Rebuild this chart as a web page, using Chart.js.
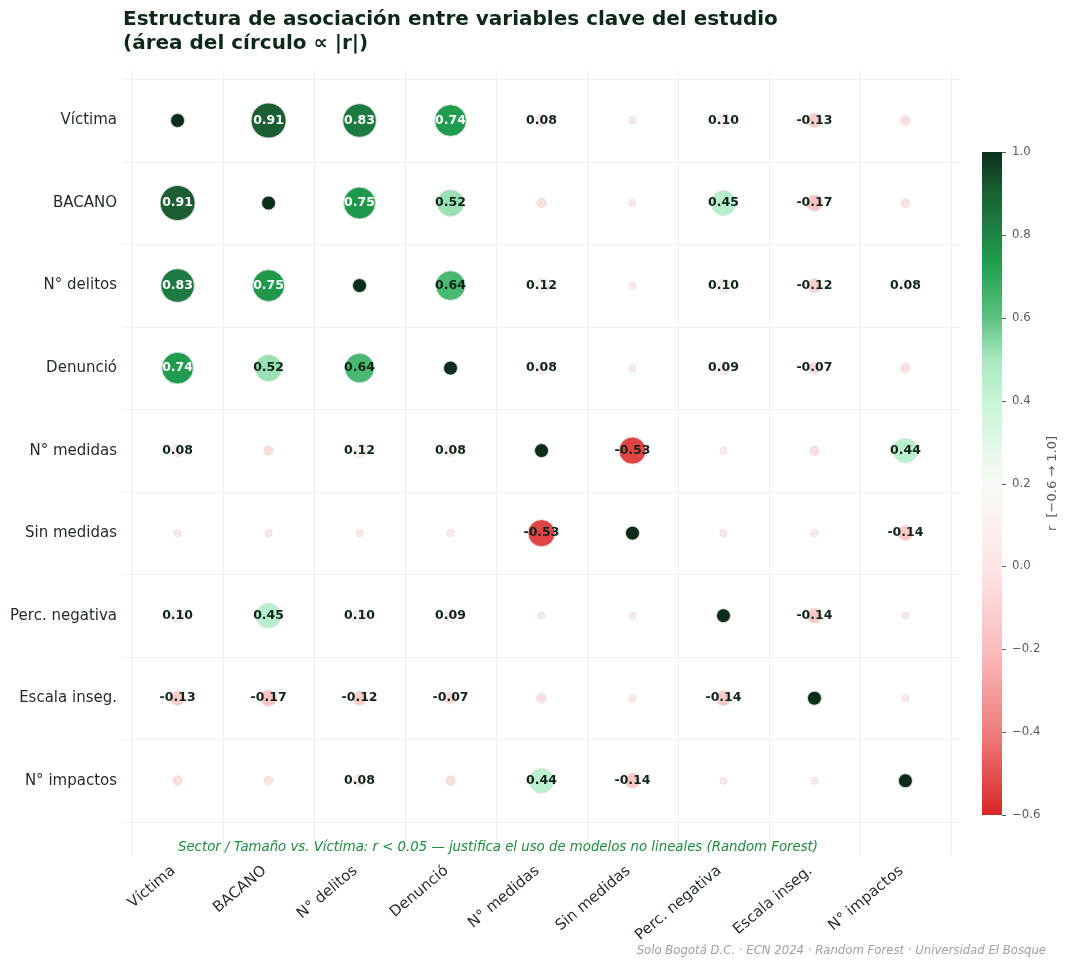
<!DOCTYPE html>
<html>
<head>
<meta charset="utf-8">
<script src="https://cdn.jsdelivr.net/npm/chart.js@4.4.1/dist/chart.umd.min.js"></script>
<style>
  body { margin: 0; background: #fff; }
  #wrap { width: 1065px; height: 960px; }
</style>
</head>
<body>
<div id="wrap"><canvas id="corrChart" width="1065" height="960"></canvas></div>
<script>
const variables = ['Víctima', 'BACANO', 'N° delitos', 'Denunció', 'N° medidas', 'Sin medidas', 'Perc. negativa', 'Escala inseg.', 'N° impactos'];

// correlation rows, same order as variables
const rowVictima  = [1.00, 0.91, 0.83, 0.74, 0.08, 0.01, 0.10, -0.13, -0.04];
const rowBacano   = [0.91, 1.00, 0.75, 0.52, -0.04, 0.01, 0.45, -0.17, -0.03];
const rowDelitos  = [0.83, 0.75, 1.00, 0.64, 0.12, 0.01, 0.10, -0.12, 0.08];
const rowDenuncio = [0.74, 0.52, 0.64, 1.00, 0.08, 0.01, 0.09, -0.07, -0.04];
const rowMedidas  = [0.08, -0.04, 0.12, 0.08, 1.00, -0.53, 0.01, -0.04, 0.44];
const rowSinMed   = [0.01, 0.01, 0.01, 0.01, -0.53, 1.00, 0.01, 0.01, -0.14];
const rowPercNeg  = [0.10, 0.45, 0.10, 0.09, 0.01, 0.01, 1.00, -0.14, 0.01];
const rowEscala   = [-0.13, -0.17, -0.12, -0.07, -0.04, 0.01, -0.14, 1.00, 0.01];
const rowImpactos = [-0.04, -0.03, 0.08, -0.04, 0.44, -0.14, 0.01, 0.01, 1.00];
const corrRows = [rowVictima, rowBacano, rowDelitos, rowDenuncio, rowMedidas, rowSinMed, rowPercNeg, rowEscala, rowImpactos];

const cbTicks = [1.0, 0.8, 0.6, 0.4, 0.2, 0.0, -0.2, -0.4, -0.6];

// colour scale (red -> white -> green)
const cmapStops = [
  [-0.6, '#d92626'],
  [-0.4, '#ef7d7d'],
  [-0.2, '#fbbdbd'],
  [0.0, '#fde6e6'],
  [0.2, '#f8faf5'],
  [0.4, '#c8f5d6'],
  [0.5, '#a8e8bf'],
  [0.6, '#5cc280'],
  [0.73, '#1fa04e'],
  [0.83, '#1e7a40'],
  [0.91, '#1a5e32'],
  [1.0, '#0b2e1a']
];

function hexToRgb(h) {
  return [parseInt(h.slice(1, 3), 16), parseInt(h.slice(3, 5), 16), parseInt(h.slice(5, 7), 16)];
}

function colorFor(v) {
  if (v <= cmapStops[0][0]) return cmapStops[0][1];
  for (let i = 1; i < cmapStops.length; i++) {
    if (v <= cmapStops[i][0]) {
      const [v0, c0] = cmapStops[i - 1];
      const [v1, c1] = cmapStops[i];
      const t = (v - v0) / (v1 - v0);
      const a = hexToRgb(c0), b = hexToRgb(c1);
      const c = a.map((x, k) => Math.round(x + (b[k] - x) * t));
      return `rgb(${c[0]},${c[1]},${c[2]})`;
    }
  }
  return cmapStops[cmapStops.length - 1][1];
}

// area of circle proportional to |r|; diagonal drawn as a small dot
function radiusFor(v, diag) {
  if (diag) return 7;
  return Math.sqrt(38 + 1304 * Math.abs(v)) / 2;
}

const points = [];
corrRows.forEach((row, i) => {
  row.forEach((v, j) => {
    points.push({ x: j, y: i, r: radiusFor(v, i === j), v: v, diag: i === j });
  });
});

const FONT = "'DejaVu Sans', sans-serif";

// light grid between cells
const cellGrid = {
  id: 'cellGrid',
  beforeDatasetsDraw(chart) {
    const { ctx, chartArea, scales } = chart;
    ctx.save();
    ctx.strokeStyle = '#efefef';
    ctx.lineWidth = 1;
    for (let i = 0; i <= variables.length; i++) {
      const px = Math.round(scales.x.getPixelForValue(i - 0.5)) + 0.5;
      const py = Math.round(scales.y.getPixelForValue(i - 0.5)) + 0.5;
      ctx.beginPath();
      ctx.moveTo(px, chartArea.top);
      ctx.lineTo(px, chartArea.bottom);
      ctx.stroke();
      ctx.beginPath();
      ctx.moveTo(chartArea.left, py);
      ctx.lineTo(chartArea.right, py);
      ctx.stroke();
    }
    ctx.restore();
  }
};

// r values written on the circles
const valueLabels = {
  id: 'valueLabels',
  afterDatasetsDraw(chart) {
    const ctx = chart.ctx;
    const meta = chart.getDatasetMeta(0);
    ctx.save();
    ctx.font = `bold 12.5px ${FONT}`;
    ctx.textAlign = 'center';
    ctx.textBaseline = 'middle';
    meta.data.forEach((el, k) => {
      const p = points[k];
      if (p.diag || Math.abs(p.v) < 0.07) return;
      ctx.fillStyle = Math.abs(p.v) >= 0.7 ? '#ffffff' : '#10241a';
      ctx.fillText(p.v.toFixed(2), el.x, el.y);
    });
    ctx.restore();
  }
};

// title, note, colorbar, footer
const decorations = {
  id: 'decorations',
  afterDraw(chart) {
    const { ctx, chartArea } = chart;
    ctx.save();
    ctx.fillStyle = '#0d2818';
    ctx.font = `bold 20px ${FONT}`;
    ctx.textAlign = 'left';
    ctx.textBaseline = 'middle';
    ctx.fillText('Estructura de asociación entre variables clave del estudio', chartArea.left, 20);
    ctx.fillText('(área del círculo ∝ |r|)', chartArea.left, 44);

    ctx.fillStyle = '#1e8a3e';
    ctx.font = `italic 13.3px ${FONT}`;
    ctx.textAlign = 'center';
    ctx.fillText('Sector / Tamaño vs. Víctima: r < 0.05 — justifica el uso de modelos no lineales (Random Forest)', 498, 848);

    ctx.fillStyle = '#9aa0a8';
    ctx.font = `italic 11.7px ${FONT}`;
    ctx.textAlign = 'right';
    ctx.fillText('Solo Bogotá D.C. · ECN 2024 · Random Forest · Universidad El Bosque', 1046, 951);

    // colorbar
    const cbX = 982, cbW = 20, cbTop = 152, cbBot = 815;
    const vmin = -0.6, vmax = 1.0;
    const grad = ctx.createLinearGradient(0, cbBot, 0, cbTop);
    cmapStops.forEach(([v, c]) => grad.addColorStop((v - vmin) / (vmax - vmin), c));
    ctx.fillStyle = grad;
    ctx.fillRect(cbX, cbTop, cbW, cbBot - cbTop);

    ctx.strokeStyle = '#555c66';
    ctx.fillStyle = '#555c66';
    ctx.lineWidth = 1;
    ctx.font = `11.7px ${FONT}`;
    ctx.textAlign = 'left';
    cbTicks.forEach(v => {
      const y = cbBot - (v - vmin) / (vmax - vmin) * (cbBot - cbTop);
      ctx.beginPath();
      ctx.moveTo(cbX + cbW, Math.round(y) + 0.5);
      ctx.lineTo(cbX + cbW + 4, Math.round(y) + 0.5);
      ctx.stroke();
      ctx.fillText(v.toFixed(1).replace('-', '\u2212'), cbX + cbW + 10, y);
    });
    ctx.translate(1053, (cbTop + cbBot) / 2);
    ctx.rotate(-Math.PI / 2);
    ctx.textAlign = 'center';
    ctx.font = `13px ${FONT}`;
    ctx.fillText('r  [\u22120.6 \u2192 1.0]', 0, 0);
    ctx.restore();
  }
};

const tickFont = { family: FONT, size: 15 };

new Chart(document.getElementById('corrChart'), {
  type: 'bubble',
  data: {
    datasets: [{
      data: points,
      backgroundColor: ctx => colorFor(ctx.raw ? ctx.raw.v : 0),
      borderColor: 'rgba(225,225,225,0.9)',
      borderWidth: 1
    }]
  },
  options: {
    responsive: false,
    animation: false,
    layout: { padding: { top: 71, right: 105, left: 0, bottom: 0 } },
    plugins: {
      legend: { display: false },
      tooltip: { enabled: false }
    },
    scales: {
      x: {
        type: 'linear',
        min: -0.6,
        max: 8.6,
        grid: { display: false, drawTicks: false },
        border: { display: false },
        afterBuildTicks: s => { s.ticks = variables.map((_, i) => ({ value: i })); },
        afterFit: s => { s.height = 105; },
        ticks: {
          autoSkip: false,
          minRotation: 40,
          maxRotation: 40,
          padding: 7,
          labelOffset: -4,
          color: '#1f2a24',
          font: tickFont,
          callback: v => variables[v]
        }
      },
      y: {
        type: 'linear',
        reverse: true,
        min: -0.6,
        max: 8.9,
        grid: { display: false, drawTicks: false },
        border: { display: false },
        afterBuildTicks: s => { s.ticks = variables.map((_, i) => ({ value: i })); },
        afterFit: s => { s.width = 123; },
        ticks: {
          autoSkip: false,
          padding: 6,
          color: '#1f2a24',
          font: tickFont,
          callback: v => variables[v]
        }
      }
    }
  },
  plugins: [cellGrid, valueLabels, decorations]
});
</script>
</body>
</html>
